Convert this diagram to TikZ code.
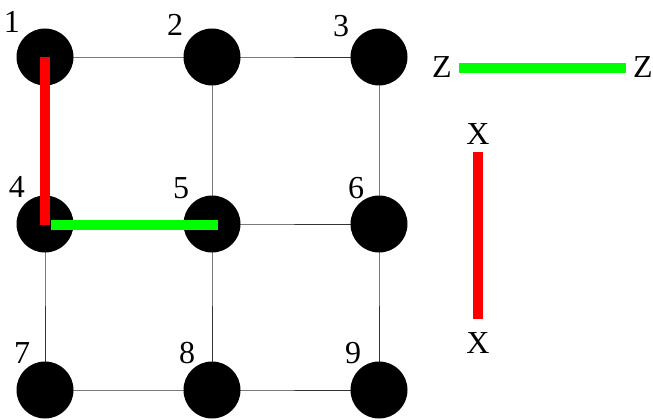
\documentclass[tikz,border=0pt]{standalone}
\usepackage{fontspec}
\setmainfont{Liberation Serif}
\usepackage{tikz}
\usetikzlibrary{positioning}
\definecolor{xop}{HTML}{FF0000}
\definecolor{zop}{HTML}{00FF00}

\begin{document}
\begin{tikzpicture}[x=1pt, y=-1pt,
  every node/.style={font=\fontsize{32}{36}\selectfont, inner sep=2pt},
  qubit/.style={circle, fill=black, minimum size=57pt, inner sep=0pt},
  bond/.style={draw=black!80, line width=0.8pt},
  xline/.style={draw=xop, line width=10pt},
  zline/.style={draw=zop, line width=10pt},
]
  \useasboundingbox (0,0) rectangle (653,420);

  % grid edges first, qubits on top
  \coordinate (c1) at (45,57);
  \coordinate (c2) at (212,57);
  \coordinate (c3) at (379,57);
  \coordinate (c4) at (45,224);
  \coordinate (c5) at (212,224);
  \coordinate (c6) at (379,224);
  \coordinate (c7) at (45,390);
  \coordinate (c8) at (212,390);
  \coordinate (c9) at (379,390);

  \draw[bond] (c1) -- (c2) -- (c3);
  \draw[bond] (c4) -- (c5) -- (c6);
  \draw[bond] (c7) -- (c8) -- (c9);
  \draw[bond] (c1) -- (c4) -- (c7);
  \draw[bond] (c2) -- (c5) -- (c8);
  \draw[bond] (c3) -- (c6) -- (c9);

  \node[qubit] (q1) at (c1) {};
  \node[qubit] (q2) at (c2) {};
  \node[qubit] (q3) at (c3) {};
  \node[qubit] (q4) at (c4) {};
  \node[qubit] (q5) at (c5) {};
  \node[qubit] (q6) at (c6) {};
  \node[qubit] (q7) at (c7) {};
  \node[qubit] (q8) at (c8) {};
  \node[qubit] (q9) at (c9) {};

  \node (l1) at (12,22) {1};
  \node (l2) at (175,25) {2};
  \node (l3) at (341,26) {3};
  \node (l4) at (17,187) {4};
  \node (l5) at (181,188) {5};
  \node (l6) at (356,188) {6};
  \node (l7) at (22,353) {7};
  \node (l8) at (187,353) {8};
  \node (l9) at (353,353) {9};

  % operator strings
  \draw[xline] (q1.center) -- ([yshift=-1pt]q4.center);
  \draw[zline] ([xshift=6pt, yshift=-1pt]q4.center) -- ([xshift=6pt, yshift=-1pt]q5.center);

  % legend
  \node (zl) at (442,67) {Z};
  \node (zr) at (643,67) {Z};
  \draw[zline, shorten <=5pt, shorten >=5pt] ([yshift=-1pt]zl.east) -- ([yshift=-1pt]zr.west);
  \node (xt) at (478,134) {X};
  \node (xb) at (478,343) {X};
  \draw[xline] ([yshift=-5pt]xt.south) -- ([yshift=11pt]xb.north);
\end{tikzpicture}
\end{document}
